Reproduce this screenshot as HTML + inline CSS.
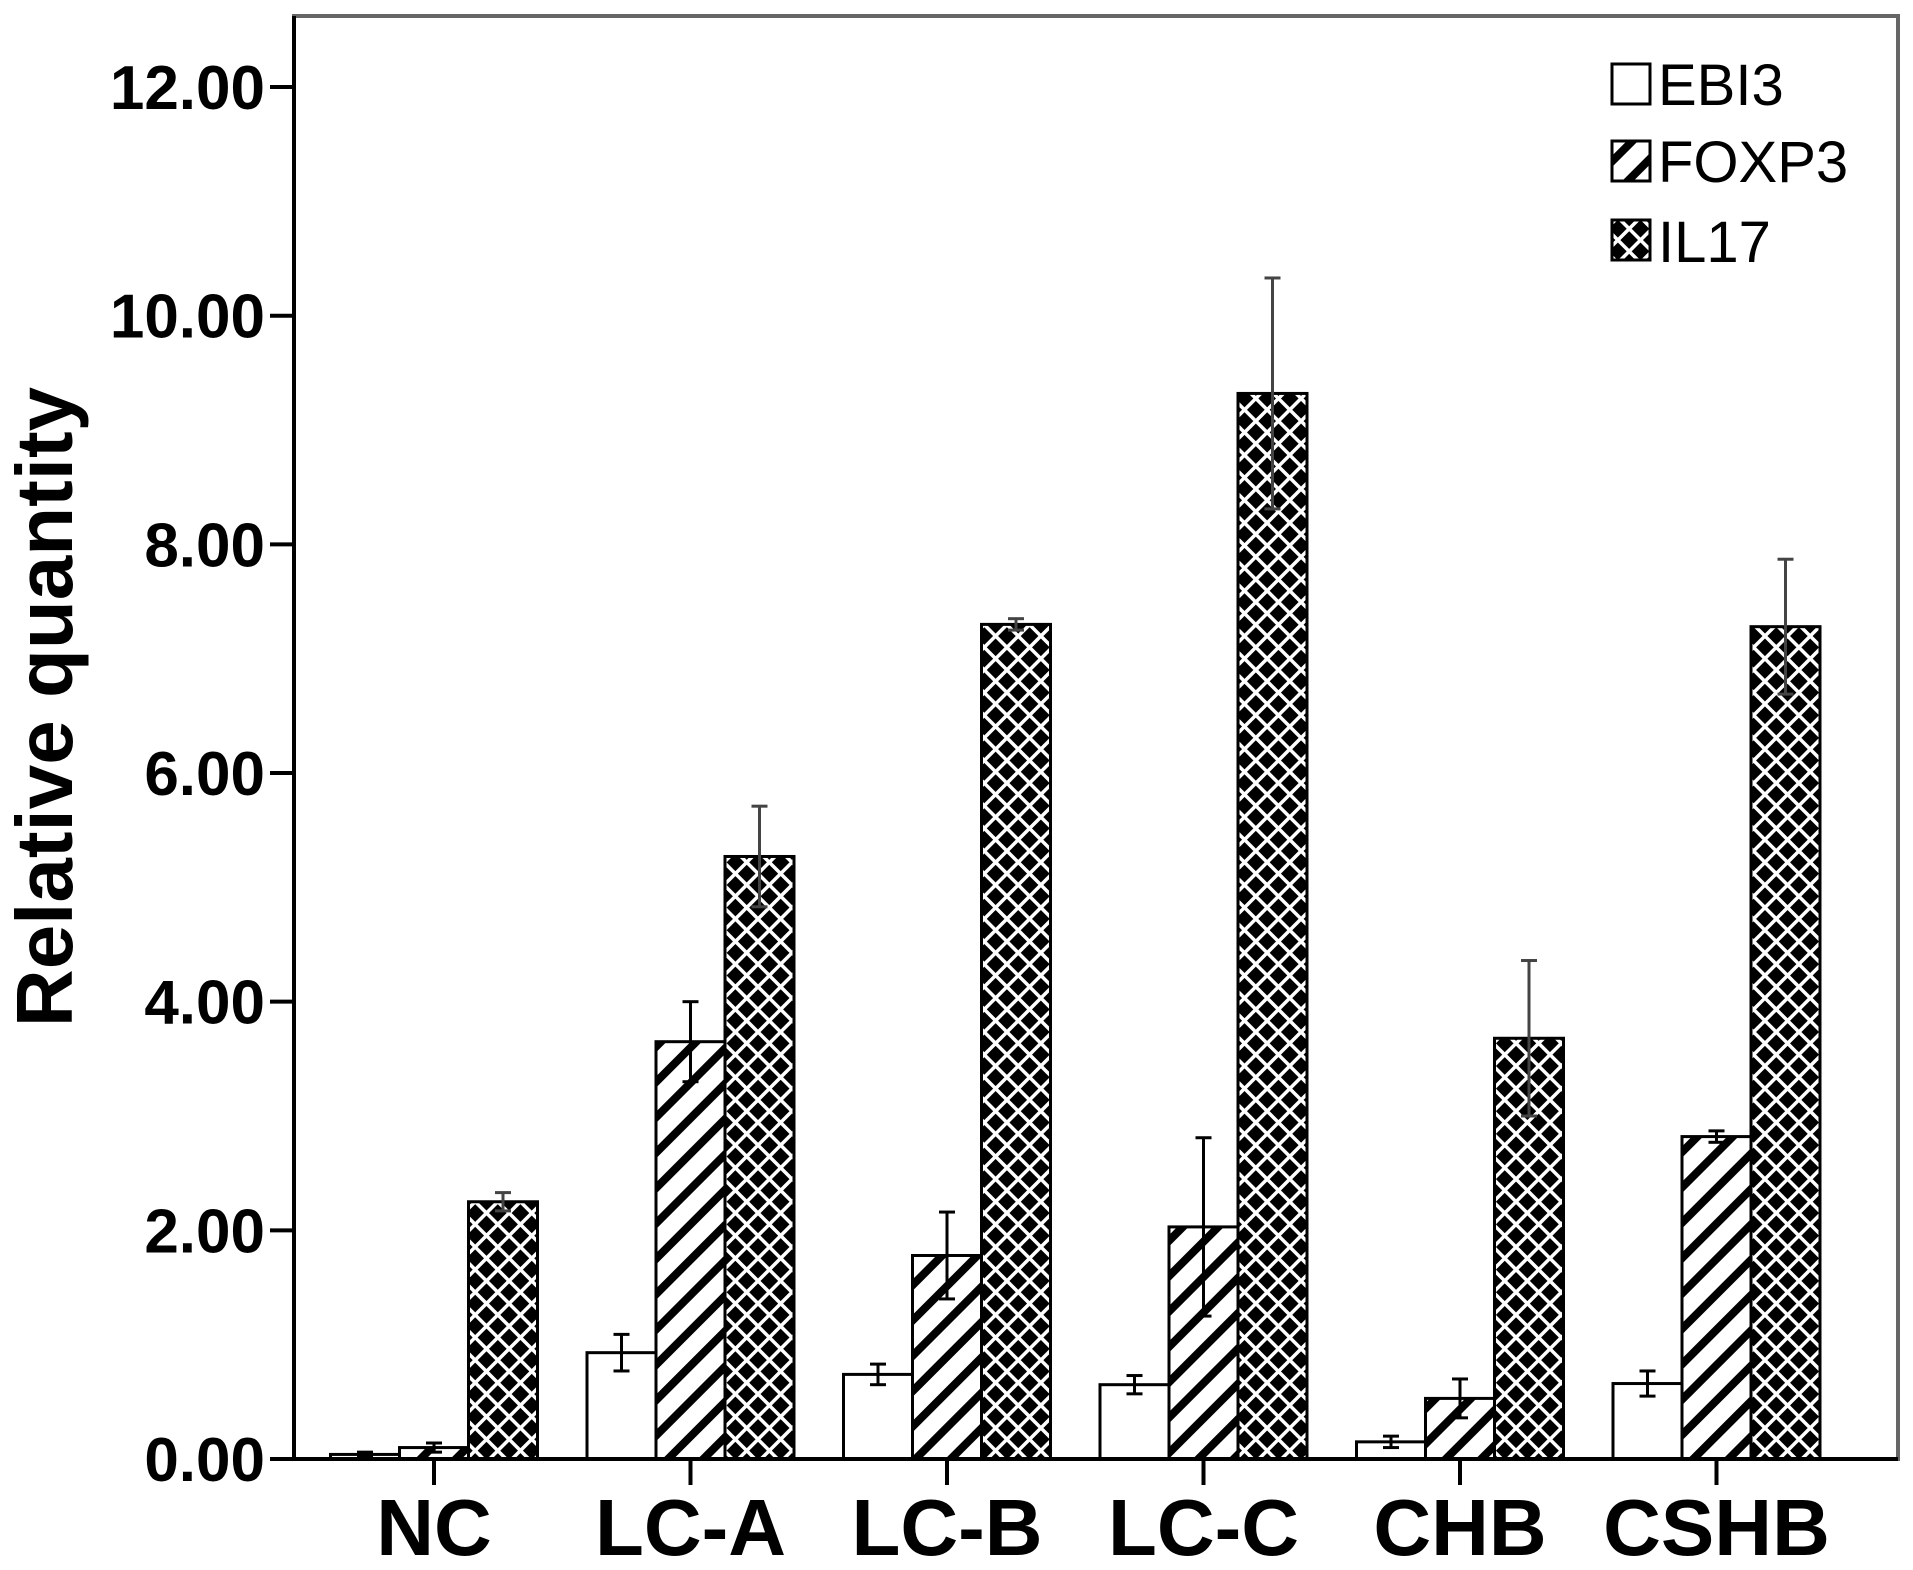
<!DOCTYPE html>
<html><head><meta charset="utf-8"><style>
html,body{margin:0;padding:0;background:#fff;}
svg{display:block;font-family:"Liberation Sans",Arial,sans-serif;}
</style></head><body>
<svg id="chart" width="1913" height="1570" viewBox="0 0 1913 1570" xmlns="http://www.w3.org/2000/svg">
<defs>
<pattern id="stripe" patternUnits="userSpaceOnUse" width="25" height="25" patternTransform="rotate(45)">
<rect width="25" height="25" fill="#fff"/>
<rect x="0" y="0" width="8" height="25" fill="#000"/>
</pattern>
<pattern id="cross" patternUnits="userSpaceOnUse" width="16" height="16" patternTransform="rotate(45)">
<rect width="16" height="16" fill="#000"/>
<rect x="0" y="0" width="3.5" height="16" fill="#fff"/>
<rect x="0" y="0" width="16" height="3.5" fill="#fff"/>
</pattern>
</defs>
<rect x="294" y="16" width="1604" height="1443" fill="none" stroke="#666" stroke-width="4"/>
<g id="marks"></g>
<line x1="294" y1="16" x2="294" y2="1459" stroke="#000" stroke-width="4"/>
<line x1="294" y1="1459" x2="1898" y2="1459" stroke="#000" stroke-width="4"/>
<text transform="translate(72,707) rotate(-90)" text-anchor="middle" font-size="80" font-weight="bold">Relative quantity</text>
<g>
<rect x="1612" y="64" width="38" height="40" fill="#fff" stroke="#000" stroke-width="3"/>
<text x="1658" y="105" font-size="58">EBI3</text>
<rect x="1612" y="141" width="38" height="40" fill="url(#stripe)" stroke="#000" stroke-width="3"/>
<text x="1658" y="182" font-size="58">FOXP3</text>
<rect x="1612" y="220" width="38" height="40" fill="url(#cross)" stroke="#000" stroke-width="3"/>
<text x="1658" y="262" font-size="58">IL17</text>
</g>
</svg>
<script>
const categories = ["NC","LC-A","LC-B","LC-C","CHB","CSHB"];
const seriesNames = ["EBI3","FOXP3","IL17"];
const ebi3 = [0.04, 0.93, 0.74, 0.65, 0.15, 0.66];
const foxp3 = [0.10, 3.65, 1.78, 2.03, 0.53, 2.82];
const il17 = [2.25, 5.27, 7.30, 9.32, 3.68, 7.28];
const ebi3Err = [0.02, 0.16, 0.09, 0.08, 0.05, 0.11];
const foxp3Err = [0.04, 0.35, 0.38, 0.78, 0.17, 0.05];
const il17Err = [0.08, 0.44, 0.05, 1.01, 0.68, 0.59];
const yTicks = [0, 2, 4, 6, 8, 10, 12];
const yTickLabels = ["0.00","2.00","4.00","6.00","8.00","10.00","12.00"];

const NS = "http://www.w3.org/2000/svg";
const svg = document.getElementById('chart');
const marks = document.getElementById('marks');
const Y0 = 1459, UNIT = 114.33;
function yScale(v){ return Y0 - v * UNIT; }
function xScale(i){ return 434 + i * 256.5; }
const BW = 69;
const fills = ["#fff","url(#stripe)","url(#cross)"];
const values = [ebi3, foxp3, il17];
const errs = [ebi3Err, foxp3Err, il17Err];
const errColor = ["#000","#000","#444"];
function mk(tag, attrs, parent){
  const el = document.createElementNS(NS, tag);
  for (const k in attrs) el.setAttribute(k, attrs[k]);
  (parent || svg).appendChild(el);
  return el;
}
// y ticks
yTicks.forEach((t, i) => {
  const y = yScale(t);
  const tk = mk('line', {x1: 270, x2: 294, y1: y, y2: y, stroke: '#000', 'stroke-width': 4});
  
  
  const lb = mk('text', {x: 265, y: y + 22, 'text-anchor': 'end', 'font-size': 62, 'font-weight': 'bold'});
  lb.textContent = yTickLabels[i];
  
  
});
// categories
categories.forEach((c, i) => {
  const cx = xScale(i);
  const tk = mk('line', {x1: cx, x2: cx, y1: 1459, y2: 1485, stroke: '#000', 'stroke-width': 4});
  
  
  const lb = mk('text', {x: cx, y: 1555, 'text-anchor': 'middle', 'font-size': 80, 'font-weight': 'bold'});
  lb.textContent = c;
  
  
  for (let s = 0; s < 3; s++) {
    const v = values[s][i];
    const x = cx + (s - 1) * BW - BW / 2;
    const y = yScale(v);
    const r = mk('rect', {x: x, y: y, width: BW, height: Y0 - y, fill: fills[s], stroke: '#000', 'stroke-width': 3}, marks);
    
    
    const e = errs[s][i];
    const mx = x + BW / 2;
    const g = mk('g', {stroke: errColor[s], 'stroke-width': 3}, marks);
    
    
    mk('line', {x1: mx, x2: mx, y1: yScale(v - e), y2: yScale(v + e)}, g);
    mk('line', {x1: mx - 8, x2: mx + 8, y1: yScale(v + e), y2: yScale(v + e)}, g);
    mk('line', {x1: mx - 8, x2: mx + 8, y1: yScale(v - e), y2: yScale(v - e)}, g);
  }
});
</script>
</body></html>
